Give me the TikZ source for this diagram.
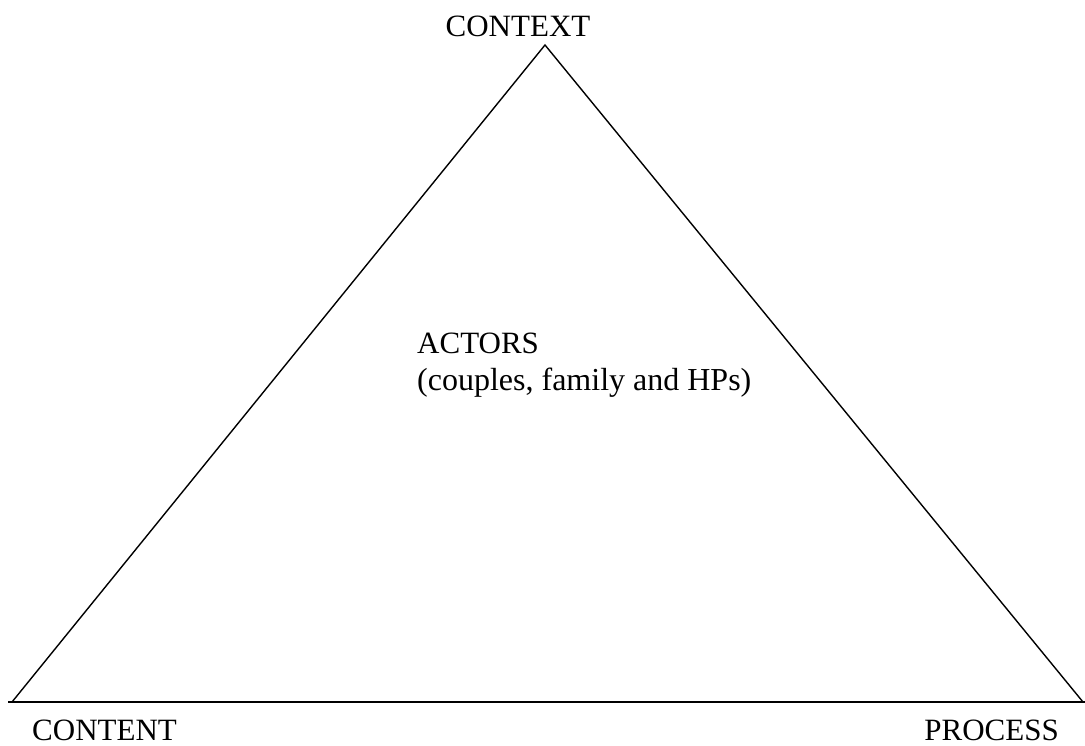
\documentclass[tikz,border=0pt]{standalone}
\usepackage{fontspec}
\setmainfont{Liberation Serif}
\begin{document}
\begin{tikzpicture}[x=1pt,y=-1pt,
  lbl/.style={font=\fontsize{31}{36}\selectfont, inner sep=0pt, anchor=base},
  edge/.style={line width=1.4pt, black}]
\useasboundingbox (0,0) rectangle (1085,745);
\coordinate (top) at (545,45);
\coordinate (left) at (12,702);
\coordinate (right) at (1083,702);
\coordinate (bl) at (8,702);
\coordinate (br) at (1085,702);
\draw[edge, line join=miter] (left) -- (top) -- (right);
\draw[edge] (bl) -- (br);
\node[lbl] (context) at (518,36) {CONTEXT};
\node[lbl, anchor=base west] (content) at (32,740) {CONTENT};
\node[lbl, anchor=base east] (process) at (1059,740) {PROCESS};
\node[lbl, anchor=base west] (actors) at (417,353) {ACTORS};
\node[lbl, anchor=base west, font=\fontsize{32}{36}\selectfont] (actorsb) at (417,390) {(couples, family and HPs)};
\end{tikzpicture}
\end{document}
